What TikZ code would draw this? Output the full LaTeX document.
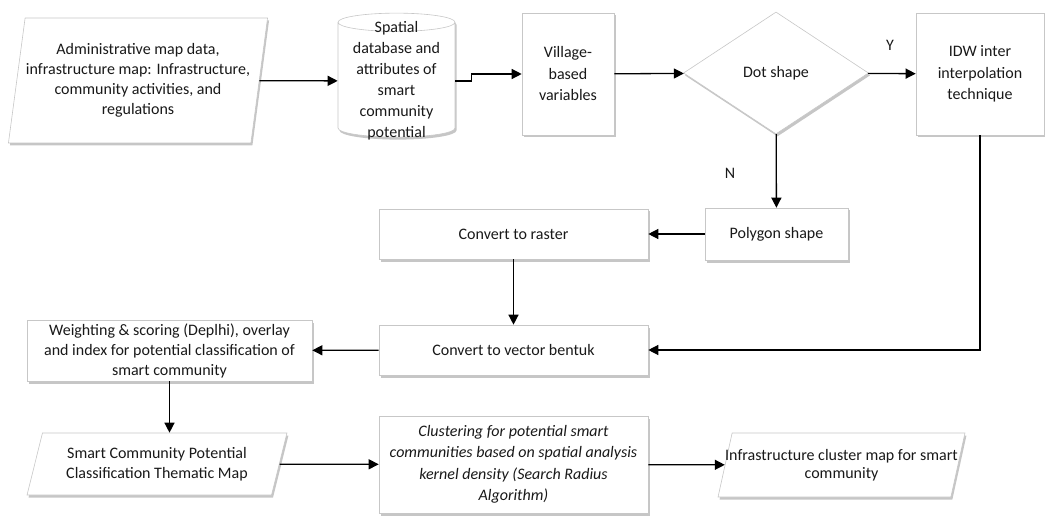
\documentclass[tikz,border=0pt]{standalone}
\usepackage{fontspec}
\setmainfont{Carlito}
\usetikzlibrary{positioning,calc,shapes.geometric,arrows.meta,shadows}
\definecolor{boxgray}{rgb}{0.78, 0.78, 0.78}
\definecolor{inkblack}{rgb}{0.1, 0.1, 0.1}

\begin{document}
\begin{tikzpicture}[x=1pt,y=-1pt,>={Triangle[length=10pt,width=10pt]},line width=1.3pt,
                text=inkblack,font=\fontsize{16}{20}\selectfont,
                main node/.style={rectangle,draw=boxgray,line width=0.6pt,fill=white,align=center,inner sep=2pt,
                  drop shadow={shadow xshift=1.5pt,shadow yshift=-2.5pt,fill=black!50,opacity=0.45}},
                tall text/.style={font=\fontsize{16}{21.5}\selectfont},
                data node/.style={main node,trapezium,trapezium stretches=true,inner xsep=0pt},
                db node/.style={main node,cylinder,shape border rotate=90,aspect=0.2,font=\fontsize{16}{21}\selectfont}]
\useasboundingbox (0,0) rectangle (1045,516);
%Nodes
    \node[data node, trapezium left angle=78, trapezium right angle=102, minimum width=260pt, minimum height=125pt] (In1) at (138,80.5)
        {Administrative map data,\\infrastructure map: Infrastructure,\\community activities, and\\regulations};
    \node[db node, inner ysep=-10pt, minimum width=117pt, minimum height=112pt] (DB1) at (396.5,81)
        {Spatial\\database and\\attributes of\\smart\\community\\potential};
    \node[main node, tall text, minimum width=92pt, minimum height=122pt] (Vil1) at (568,74) {Village-\\based\\variables};
    \node[main node, diamond, aspect=1.52, minimum width=185pt, minimum height=122pt, inner sep=0pt] (Dot1) at (776,73) {Dot shape};
    \node[main node, tall text, minimum width=128pt, minimum height=122pt] (IDW1) at (980,74) {IDW inter\\interpolation\\technique};
    \node (Y1) at (890,45) {Y};
    \node (N1) at (730,173) {N};
    \node[main node, minimum width=143pt, minimum height=52pt] (Poly1) at (776.5,234) {Polygon shape};
    \node[main node, minimum width=269pt, minimum height=50pt] (Ras1) at (513.5,234) {Convert to raster};
    \node[main node, minimum width=269pt, minimum height=50pt] (Vec1) at (513.5,350) {Convert to vector bentuk};
    \node[main node, inner sep=1pt, minimum width=285pt, minimum height=61pt] (Wgt1) at (169.5,350.5)
        {Weighting \& scoring (Deplhi), overlay\\and index for potential classification of\\smart community};
    \node[data node, trapezium left angle=72, trapezium right angle=108, minimum width=260pt, minimum height=62pt] (Thm1) at (157,464)
        {Smart Community Potential\\Classification Thematic Map};
    \node[main node, minimum width=269pt, minimum height=97pt, font=\fontsize{16}{21.5}\selectfont\itshape] (Clu1) at (513.5,464.5)
        {Clustering for potential smart\\communities based on spatial analysis\\kernel density (Search Radius\\Algorithm)};
    \node[data node, inner xsep=-10pt, font=\fontsize{16}{18}\selectfont, trapezium left angle=69, trapezium right angle=111, minimum width=247pt, minimum height=64pt] (Out1) at (841.5,465)
        {Infrastructure cluster map for smart\\community};

    \draw[->] (In1) -- (DB1);
    \draw[->] (DB1.east) -- ++(16,0) |- (Vil1.west);
    \draw[->] (Vil1) -- (Dot1);
    \draw[->] (Dot1) -- (IDW1);
    \draw[->] (Dot1) -- (Poly1);
    \draw[->] (Poly1) -- (Ras1);
    \draw[->] (Ras1) -- (Vec1);
    \draw[->] (IDW1.south) |- (Vec1.east);
    \draw[->] (Vec1) -- (Wgt1);
    \draw[->] (Wgt1.south) -- (Wgt1.south |- Thm1.north);
    \draw[->] (Thm1) -- (Clu1);
    \draw[->] (Clu1) -- (Out1);
\end{tikzpicture}
\end{document}
